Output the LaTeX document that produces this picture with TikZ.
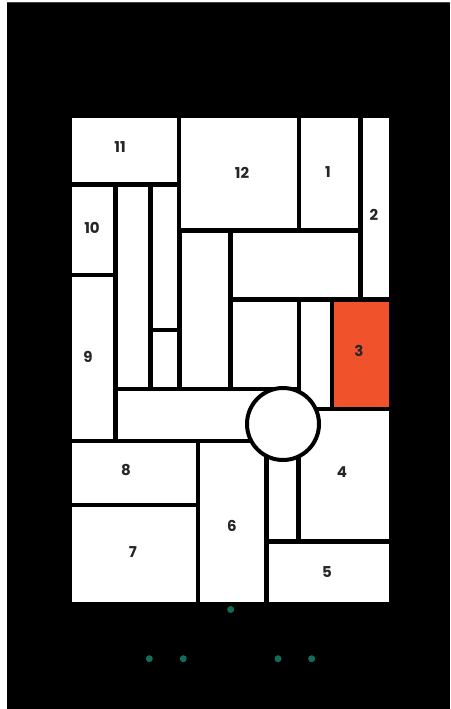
\documentclass[tikz,border=0pt]{standalone}
\usepackage{fontspec}
\setmainfont{Poppins}
\definecolor{tealdot}{RGB}{14,110,90}
\definecolor{orangecell}{RGB}{240,83,43}
\begin{document}
\begin{tikzpicture}[x=1pt,y=-1pt,
  cell/.style={fill=white},
  hot/.style={fill=orangecell},
  lbl/.style={font=\fontsize{15}{15}\selectfont\bfseries, text=black!85, inner sep=0pt},
  dot/.style={circle, fill=tealdot, inner sep=0pt, minimum size=7pt}]
\useasboundingbox (0,0) rectangle (450,709);
\fill[white] (0,0) rectangle (450,709);
\fill[black!75] (7,2) rectangle (450,3.5);
\fill[black] (7,3.5) rectangle (450,709);
% top band
\fill[cell] (72.3,118.3) rectangle (177.3,181.7);   % 11
\fill[cell] (180.7,118.3) rectangle (296.7,228.3);  % 12
\fill[cell] (300.7,118.3) rectangle (358.3,228.3);  % 1
\fill[cell] (362.7,118.3) rectangle (389,297.3);    % 2
% left column
\fill[cell] (72.3,187.3) rectangle (112.7,272.7);   % 10
\fill[cell] (72.3,276.7) rectangle (112.7,439);     % 9
\fill[cell] (117.7,187.3) rectangle (148.3,386.7);
\fill[cell] (152.7,187.3) rectangle (176.7,327.7);
\fill[cell] (152.7,332.3) rectangle (176.7,386.7);
\fill[cell] (181.7,233.3) rectangle (228.3,386.7);
\fill[cell] (232.7,233.3) rectangle (358.3,297.3);
\fill[cell] (232.7,301.7) rectangle (296.7,386.7);
\fill[cell] (300.7,301.7) rectangle (330,406.7);
\fill[hot]  (334,301.7) rectangle (389,407.3);      % 3
\fill[cell] (117.7,391) rectangle (283,439);        % bar
% lower part
\fill[cell] (300.7,410.7) rectangle (389,539.3);    % 4
\fill[cell] (72.3,443.3) rectangle (196,502.7);     % 8
\fill[cell] (72.3,507.3) rectangle (196,601.7);     % 7
\fill[cell] (200,443.3) rectangle (264.3,601.7);    % 6
\fill[cell] (269.3,443.3) rectangle (296,539.3);
\fill[cell] (269.3,544.3) rectangle (389,601.7);    % 5
% circle
\node[circle, draw=black, line width=4pt, fill=white, minimum size=72pt, inner sep=0pt] (hub) at (283,424) {};
% labels
\node[lbl] (l11) at (120,147) {11};
\node[lbl] (l12) at (242,173) {12};
\node[lbl] (l1) at (328,172) {1};
\node[lbl] (l2) at (374,215) {2};
\node[lbl] (l10) at (92,228) {10};
\node[lbl] (l9) at (88,357) {9};
\node[lbl] (l3) at (359,351) {3};
\node[lbl] (l4) at (342,472) {4};
\node[lbl] (l8) at (126,470) {8};
\node[lbl] (l7) at (133,552) {7};
\node[lbl] (l6) at (232,526) {6};
\node[lbl] (l5) at (327,572) {5};
% dots
\node[dot] (d0) at (230.7,609.5) {};
\node[dot] (d1) at (149.3,658.7) {};
\node[dot] (d2) at (183.3,658.7) {};
\node[dot] (d3) at (278,658.7) {};
\node[dot] (d4) at (311.7,658.7) {};
\end{tikzpicture}
\end{document}
